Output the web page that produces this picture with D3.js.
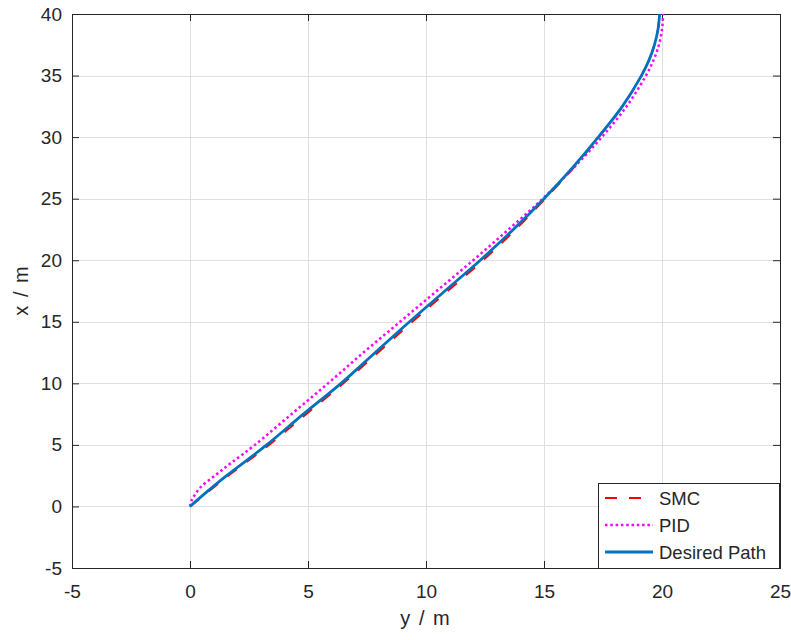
<!DOCTYPE html>
<html>
<head>
<meta charset="utf-8">
<script src="https://cdn.jsdelivr.net/npm/d3@7"></script>
<style>
  body { margin: 0; background: #fff; }
  text { font-family: Arial, "Liberation Sans", sans-serif; fill: #262626; }
</style>
</head>
<body>
<svg width="791" height="640"></svg>
<script>
// lateral position y / m (horizontal) against forward position x / m (vertical)
const pathX = [0, 1, 2.5, 5, 7.5, 10, 12.5, 15, 17.5, 20, 22.5, 25, 27.5, 30, 32.5, 35, 36.25, 37.5, 38.75, 40];
const pathY = [0, 0.6, 1.55, 3.25, 4.8, 6.4, 7.85, 9.3, 10.8, 12.3, 13.7, 15.0, 16.2, 17.3, 18.32, 19.13, 19.45, 19.68, 19.83, 19.9];

const smcX = [0, 1, 2.5, 5, 7.5, 10, 12.5, 15, 17.5, 20, 22.5, 25, 27.5, 30, 32.5, 35, 36.25, 37.5, 38.75, 40];
const smcY = [0, 0.65, 1.62, 3.35, 4.92, 6.5, 7.97, 9.42, 10.92, 12.42, 13.8, 15.05, 16.25, 17.32, 18.33, 19.13, 19.45, 19.68, 19.83, 19.9];

const pidX = [0, 0.4, 0.75, 1.5, 2.5, 3.5, 5, 7.5, 10, 12.5, 15, 17.5, 20, 22.5, 25, 27.5, 30, 32.5, 35, 36.25, 37.5, 38.75, 40];
const pidY = [0, 0.05, 0.14, 0.42, 1.05, 1.72, 2.75, 4.3, 5.85, 7.35, 8.9, 10.45, 12.0, 13.5, 14.95, 16.25, 17.45, 18.5, 19.32, 19.64, 19.87, 20.0, 20.05];

const xTicks = [-5, 0, 5, 10, 15, 20, 25];
const yTicks = [-5, 0, 5, 10, 15, 20, 25, 30, 35, 40];
const seriesNames = ["SMC", "PID", "Desired Path"];

const svg = d3.select("svg");
const mLeft = 72, mRight = 780, mTop = 14, mBottom = 568;

const x = d3.scaleLinear().domain([-5, 25]).range([mLeft, mRight]);
const y = d3.scaleLinear().domain([-5, 40]).range([mBottom, mTop]);

// grid
const grid = svg.append("g").attr("stroke", "#dfdfdf").attr("stroke-width", 1);
grid.selectAll(".gx").data(xTicks.slice(1, -1)).join("line")
  .attr("x1", d => Math.round(x(d)) + 0.5).attr("x2", d => Math.round(x(d)) + 0.5)
  .attr("y1", mTop).attr("y2", mBottom);
grid.selectAll(".gy").data(yTicks.slice(1, -1)).join("line")
  .attr("y1", d => Math.round(y(d)) + 0.5).attr("y2", d => Math.round(y(d)) + 0.5)
  .attr("x1", mLeft).attr("x2", mRight);

// axes (ticks inward, box on)
const tickLen = 7;
const fmt = d => String(d);
svg.append("g").attr("transform", `translate(0,${mBottom})`)
  .call(d3.axisBottom(x).tickValues(xTicks).tickSize(-tickLen).tickPadding(17).tickFormat(fmt));
svg.append("g").attr("transform", `translate(${mLeft},0)`)
  .call(d3.axisLeft(y).tickValues(yTicks).tickSize(-tickLen).tickPadding(10).tickFormat(fmt));
svg.append("g").attr("transform", `translate(0,${mTop})`)
  .call(d3.axisTop(x).tickValues(xTicks).tickSize(-tickLen).tickFormat(""));
svg.append("g").attr("transform", `translate(${mRight},0)`)
  .call(d3.axisRight(y).tickValues(yTicks).tickSize(-tickLen).tickFormat(""));

svg.selectAll(".domain").attr("stroke", "#262626");
svg.selectAll(".tick line").attr("stroke", "#262626");
svg.selectAll(".tick text").style("font-size", "19px").attr("fill", "#262626");

// axis labels
svg.append("text")
  .attr("x", 425).attr("y", 625)
  .attr("text-anchor", "middle").style("font-size", "20px").style("word-spacing", "3px")
  .text("y / m");
svg.append("text")
  .attr("transform", `translate(28,291) rotate(-90)`)
  .attr("text-anchor", "middle").style("font-size", "20px").style("word-spacing", "3px")
  .text("x / m");

// curves
const line = d3.line()
  .x(d => x(d[1]))
  .y(d => y(d[0]))
  .curve(d3.curveCatmullRom);

const styles = [
  { stroke: "#ff0000", width: 2, dash: "12,12" },
  { stroke: "#ff00ff", width: 2.5, dash: "2.5,2.8" },
  { stroke: "#0072bd", width: 2.8, dash: null }
];
const series = [
  d3.zip(smcX, smcY),
  d3.zip(pidX, pidY),
  d3.zip(pathX, pathY)
];

const plot = svg.append("g");
series.forEach((s, i) => {
  plot.append("path")
    .datum(s)
    .attr("fill", "none")
    .attr("stroke", styles[i].stroke)
    .attr("stroke-width", styles[i].width)
    .attr("stroke-dasharray", styles[i].dash)
    .attr("d", line);
});

// legend
const lg = svg.append("g").attr("transform", "translate(598,483)");
lg.append("rect")
  .attr("x", 0.5).attr("y", 0.5).attr("width", 181).attr("height", 85)
  .attr("fill", "#fff").attr("stroke", "#262626").attr("stroke-width", 1);
seriesNames.forEach((name, i) => {
  const cy = 15 + i * 27;
  lg.append("line")
    .attr("x1", 7).attr("x2", 55).attr("y1", cy).attr("y2", cy)
    .attr("stroke", styles[i].stroke)
    .attr("stroke-width", styles[i].width)
    .attr("stroke-dasharray", styles[i].dash);
  lg.append("text")
    .attr("x", 61).attr("y", cy + 6.5)
    .style("font-size", "18.5px")
    .text(name);
});
</script>
</body>
</html>
